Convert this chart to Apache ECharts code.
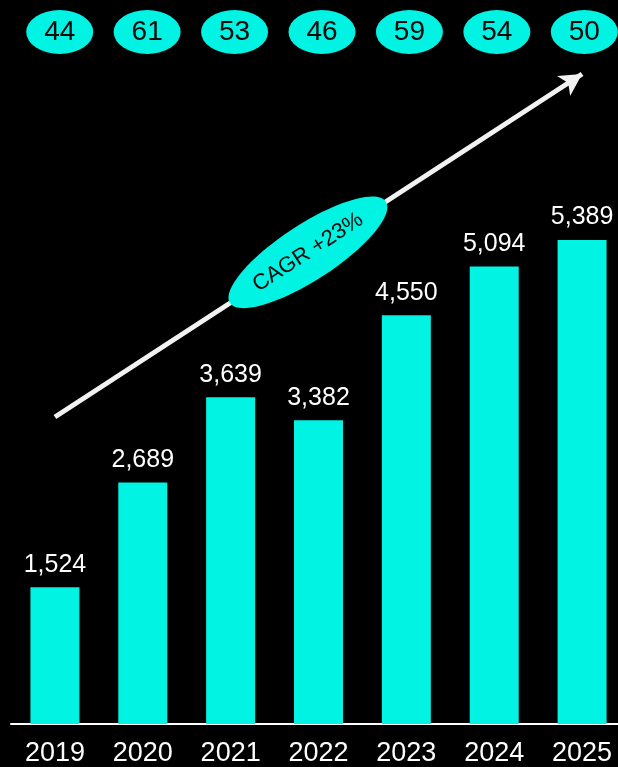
<!DOCTYPE html>
<html>
<head>
<meta charset="utf-8">
<script src="https://cdn.jsdelivr.net/npm/echarts@6/dist/echarts.min.js"></script>
<style>
html,body{margin:0;padding:0;background:#000;overflow:hidden;width:618px;height:767px;}
#chart{width:630px;height:767px;}
</style>
</head>
<body>
<div id="chart"></div>
<script>
const years = ['2019','2020','2021','2022','2023','2024','2025'];
const values = [1524, 2689, 3639, 3382, 4550, 5094, 5389];
const shares = [44, 61, 53, 46, 59, 54, 50];
const cagrText = 'CAGR +23%';

const CYAN = '#00F3E3';
const FONT = '"Liberation Sans", Arial, sans-serif';

const chart = echarts.init(document.getElementById('chart'));
const option = {
  backgroundColor: '#000',
  animation: false,
  grid: [
    {left: 11, right: 4, top: 5.5, bottom: 43},
    {left: 16, right: 2, top: 10, height: 44}
  ],
  xAxis: [
    {
      type: 'category', data: years, gridIndex: 0,
      axisLine: {show: true, lineStyle: {color: '#fff', width: 2}},
      axisTick: {show: false},
      axisLabel: {color: '#fff', fontSize: 27, fontFamily: FONT, margin: 16}
    },
    {type: 'category', data: years, gridIndex: 1, show: false}
  ],
  yAxis: [
    {type: 'value', min: 0, max: 8000, gridIndex: 0, show: false, splitLine: {show: false}},
    {type: 'category', data: [''], gridIndex: 1, show: false}
  ],
  series: [
    {
      type: 'bar', data: values, barWidth: 49,
      itemStyle: {color: CYAN},
      label: {
        show: true, position: 'top', distance: 10, color: '#fff',
        fontSize: 25, fontFamily: FONT,
        formatter: p => p.value.toLocaleString('en-US')
      },
      markLine: {
        silent: true,
        symbol: ['none', 'arrow'],
        symbolSize: [18, 22],
        label: {show: false},
        lineStyle: {color: '#f2f2f2', width: 5, type: 'solid', opacity: 1},
        data: [[{coord: ['2019', 3418]}, {coord: ['2025', 7237]}]]
      }
    },
    {
      type: 'scatter', xAxisIndex: 1, yAxisIndex: 1,
      data: shares.map((s, i) => [years[i], '', s]),
      symbol: 'circle', symbolSize: [67, 44],
      itemStyle: {color: CYAN, opacity: 1},
      label: {
        show: true, position: 'inside', color: '#0a0a0a',
        fontSize: 28, fontFamily: FONT,
        formatter: p => p.value[2]
      }
    }
  ]
};
chart.setOption(option);

// CAGR ellipse placed along the arrow
const p0 = chart.convertToPixel({gridIndex: 0}, ['2019', 3418]);
const p1 = chart.convertToPixel({gridIndex: 0}, ['2025', 7237]);
const t = 0.48;
const cx = p0[0] + (p1[0] - p0[0]) * t;
const cy = p0[1] + (p1[1] - p0[1]) * t;
const ang = Math.atan2(p0[1] - p1[1], p1[0] - p0[0]);
chart.setOption({
  graphic: [{
    type: 'group', x: cx, y: cy, rotation: ang, z: 200,
    children: [
      {type: 'ellipse', z: 200, shape: {cx: 0, cy: 0, rx: 93, ry: 28}, style: {fill: CYAN}},
      {type: 'text', z: 201, x: 0, y: 0, style: {
        text: cagrText, fill: '#0a0a0a', font: '22px ' + FONT,
        textAlign: 'center', textVerticalAlign: 'middle'
      }}
    ]
  }]
});
</script>
</body>
</html>
